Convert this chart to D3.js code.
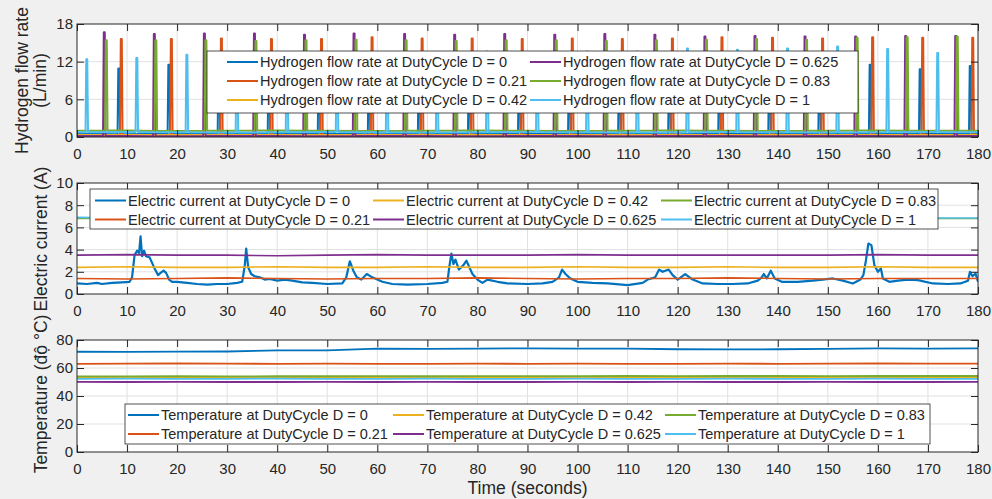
<!DOCTYPE html>
<html>
<head>
<meta charset="utf-8">
<script src="https://cdn.jsdelivr.net/npm/d3@7"></script>
<style>
  body { margin: 0; background: #f0f0f0; }
  svg { display: block; font-family: "Liberation Sans", Arial, Helvetica, sans-serif; }
</style>
</head>
<body>
<svg id="chart" width="992" height="499"></svg>
<script>
// ---- data ----
const timeTicks = [0, 10, 20, 30, 40, 50, 60, 70, 80, 90, 100, 110, 120, 130, 140, 150, 160, 170, 180];
const flowTicks = [0, 6, 12, 18];
const currentTicks = [0, 2, 4, 6, 8, 10];
const tempTicks = [0, 20, 40, 60, 80];
const dutyCycles = ["0", "0.21", "0.42", "0.625", "0.83", "1"];

// samples every 10 s (same times as timeTicks)
const baseTimes = [0, 10, 20, 30, 40, 50, 60, 70, 80, 90, 100, 110, 120, 130, 140, 150, 160, 170, 180];

// hydrogen flow: resting level + spikes
const flowBaseD0 = [0.5, 0.45, 0.5, 0.5, 0.55, 0.5, 0.45, 0.5, 0.5, 0.55, 0.5, 0.5, 0.45, 0.5, 0.5, 0.55, 0.5, 0.5, 0.5];
const flowBaseD021 = [0.05, 0.05, 0.0, 0.05, 0.05, 0.0, 0.05, 0.05, 0.0, 0.05, 0.05, 0.0, 0.05, 0.05, 0.0, 0.05, 0.05, 0.0, 0.05];
const flowBaseD042 = [0.3, 0.3, 0.3, 0.3, 0.3, 0.3, 0.3, 0.3, 0.3, 0.3, 0.3, 0.3, 0.3, 0.3, 0.3, 0.3, 0.3, 0.3, 0.3];
const flowBaseD0625 = [0.15, 0.15, 0.1, 0.15, 0.15, 0.1, 0.15, 0.15, 0.1, 0.15, 0.15, 0.1, 0.15, 0.15, 0.1, 0.15, 0.15, 0.1, 0.15];
const flowBaseD083 = [1.0, 1.05, 0.95, 1.0, 1.05, 1.0, 0.95, 1.0, 1.05, 1.0, 0.95, 1.0, 1.05, 1.0, 0.95, 1.0, 1.05, 1.0, 1.0];
const flowBaseD1 = [0.75, 0.8, 0.75, 0.7, 0.75, 0.8, 0.75, 0.7, 0.75, 0.8, 0.75, 0.7, 0.75, 0.8, 0.75, 0.7, 0.75, 0.8, 0.75];

const flowSpikeTD0 = [8.3, 18.3, 28.3, 38.3, 48.3, 58.3, 68.3, 78.3, 88.3, 98.3, 108.3, 118.3, 128.3, 138.3, 148.3, 158.4, 168.4, 178.4];
const flowSpikeD0 = [10.9, 11.5, 11.2, 11.0, 11.3, 11.1, 11.4, 11.0, 11.2, 11.3, 11.1, 11.2, 11.0, 11.3, 11.2, 11.5, 10.8, 11.3];
const flowSpikeTD021 = [8.8, 18.8, 28.8, 38.8, 48.8, 58.9, 68.9, 78.9, 88.9, 98.9, 108.9, 118.9, 128.8, 138.9, 148.9, 158.9, 168.9, 178.9];
const flowSpikeD021 = [15.6, 15.6, 15.7, 15.6, 15.6, 15.9, 15.7, 15.7, 15.6, 15.7, 15.6, 15.7, 15.9, 15.8, 15.7, 15.9, 15.8, 15.8];
const flowSpikeTD042 = [];
const flowSpikeD042 = [];
const flowSpikeTD0625 = [5.4, 15.4, 25.4, 35.4, 45.4, 55.3, 65.4, 75.4, 85.4, 95.4, 105.4, 115.4, 125.4, 135.4, 145.4, 155.5, 165.5, 175.5];
const flowSpikeD0625 = [16.7, 16.4, 16.5, 16.5, 16.3, 16.5, 16.4, 16.3, 16.4, 16.3, 16.4, 16.3, 16.0, 16.1, 16.0, 16.0, 16.1, 16.1];
const flowSpikeTD083 = [5.8, 15.7, 25.7, 35.7, 45.7, 55.7, 65.7, 75.7, 85.7, 95.7, 105.7, 115.7, 125.7, 135.7, 145.7, 155.8, 165.8, 175.8];
const flowSpikeD083 = [15.4, 15.4, 15.4, 15.3, 15.4, 15.5, 15.4, 15.3, 15.4, 15.4, 15.3, 15.4, 15.5, 15.6, 15.5, 15.8, 15.9, 16.0];
const flowSpikeTD1 = [1.9, 11.9, 21.9, 31.9, 41.9, 51.9, 61.9, 71.9, 81.9, 91.9, 101.9, 111.9, 121.9, 131.9, 141.9, 151.9, 161.9, 171.9];
const flowSpikeD1 = [12.4, 12.6, 13.1, 13.2, 13.3, 13.4, 13.5, 13.5, 13.6, 13.5, 13.6, 13.6, 14.1, 13.9, 14.1, 14.4, 14.0, 13.4];

// electric current (A)
const currentD0 = [[0, 0.95], [2, 0.9], [4, 1.0], [5, 0.9], [7, 1.0], [9, 1.05], [10.5, 1.1], [11, 1.5], [11.5, 3.5], [12, 3.9], [12.4, 3.7], [12.7, 5.2], [13, 3.4], [13.4, 3.9], [13.8, 3.4], [14.5, 3.3], [15, 2.8], [15.6, 2.2], [16.2, 1.7], [16.7, 1.9], [17.3, 2.1], [17.8, 1.9], [18.4, 1.3], [19, 1.1], [20, 1.1], [22, 1.0], [24, 0.9], [26, 0.85], [28, 0.9], [30, 0.9], [32, 1.0], [33, 1.1], [33.5, 2.5], [33.8, 4.1], [34.2, 2.4], [34.8, 1.8], [35.5, 1.6], [36.5, 1.5], [37.5, 1.3], [38.5, 1.35], [40, 1.2], [41.5, 1.3], [43, 1.2], [45, 1.05], [47, 1.0], [50, 0.9], [53, 0.95], [53.8, 1.5], [54.5, 2.95], [55.2, 2.1], [55.9, 1.5], [56.8, 1.3], [57.9, 1.8], [59, 1.5], [60, 1.3], [61, 1.1], [63, 0.9], [66, 0.85], [70, 0.9], [73, 1.0], [74, 1.1], [74.4, 2.5], [74.8, 3.65], [75.2, 2.7], [75.6, 3.1], [76.3, 2.2], [77.2, 2.6], [77.8, 3.0], [78.4, 2.4], [79, 1.8], [80, 1.3], [81, 1.0], [82, 1.3], [84, 1.1], [86, 0.95], [90, 0.9], [93, 0.95], [95, 1.1], [96.3, 1.5], [96.9, 2.2], [97.6, 1.8], [98.3, 1.5], [99, 1.3], [100, 1.1], [103, 1.0], [106, 0.95], [110, 0.8], [113, 1.0], [114, 1.3], [115.5, 1.5], [116.3, 2.2], [117, 2.0], [118.2, 2.2], [119, 1.7], [120, 1.3], [121.5, 1.8], [123, 1.3], [125, 0.95], [128, 0.9], [131, 0.9], [134, 0.95], [136, 1.2], [136.8, 1.5], [137.2, 1.8], [137.8, 1.4], [138.6, 2.1], [139.4, 1.4], [140.8, 1.1], [144, 1.1], [147, 1.2], [149, 1.3], [151, 1.4], [153, 1.2], [155, 0.95], [156.5, 1.3], [157.1, 1.7], [157.6, 3.0], [158.1, 4.55], [158.7, 4.4], [159.3, 2.6], [160, 2.0], [160.6, 2.3], [161, 1.4], [162.3, 1.1], [164, 1.2], [166, 1.3], [168, 1.25], [171, 0.95], [174, 0.9], [176.5, 0.95], [178, 1.2], [178.4, 2.0], [178.9, 1.6], [179.5, 1.85], [180, 1.1]];
const currentD021 = [1.4, 1.35, 1.4, 1.45, 1.4, 1.35, 1.4, 1.4, 1.45, 1.4, 1.35, 1.4, 1.4, 1.45, 1.4, 1.35, 1.4, 1.4, 1.4];
const currentD042 = [2.4, 2.45, 2.4, 2.4, 2.45, 2.4, 2.4, 2.45, 2.4, 2.4, 2.45, 2.4, 2.4, 2.45, 2.4, 2.4, 2.45, 2.4, 2.4];
const currentD0625 = [3.5, 3.55, 3.5, 3.5, 3.45, 3.5, 3.55, 3.5, 3.5, 3.5, 3.55, 3.5, 3.5, 3.5, 3.5, 3.5, 3.55, 3.5, 3.5];
const currentD083 = [6.8, 6.8, 6.85, 6.8, 6.8, 6.8, 6.85, 6.8, 6.8, 6.8, 6.85, 6.8, 6.8, 6.8, 6.85, 6.8, 6.8, 6.8, 6.8];
const currentD1 = [6.9, 6.85, 6.9, 6.85, 6.9, 6.85, 6.9, 6.85, 6.9, 6.85, 6.9, 6.85, 6.9, 6.85, 6.9, 6.85, 6.9, 6.85, 6.85];

// temperature (°C)
const tempD0 = [71.6, 71.5, 71.7, 71.8, 72.6, 72.6, 73.9, 73.6, 73.9, 74.0, 73.9, 73.8, 73.4, 73.3, 73.4, 73.7, 74.0, 73.9, 74.0];
const tempD021 = [63.0, 63.1, 63.2, 63.1, 63.0, 63.1, 63.0, 63.0, 63.1, 63.0, 63.1, 63.0, 63.0, 63.1, 63.0, 63.1, 63.2, 63.1, 63.1];
const tempD042 = [53.2, 53.2, 53.3, 53.2, 53.2, 53.3, 53.2, 53.2, 53.3, 53.2, 53.2, 53.3, 53.2, 53.2, 53.3, 53.2, 53.2, 53.3, 53.2];
const tempD0625 = [50.1, 50.0, 50.1, 50.0, 50.0, 50.1, 50.0, 50.1, 50.0, 50.0, 50.1, 50.0, 50.1, 50.0, 50.0, 50.1, 50.0, 50.0, 50.1];
const tempD083 = [54.0, 54.0, 54.1, 54.0, 54.1, 54.1, 54.2, 54.1, 54.2, 54.2, 54.2, 54.3, 54.2, 54.3, 54.3, 54.2, 54.3, 54.3, 54.3];
const tempD1 = [52.3, 52.4, 52.3, 52.3, 52.4, 52.3, 52.3, 52.4, 52.3, 52.3, 52.4, 52.3, 52.3, 52.4, 52.3, 52.3, 52.4, 52.3, 52.3];

// ---- drawing ----
const colors = ["#0072BD", "#D95319", "#EDB120", "#7E2F8E", "#77AC30", "#4DBEEE"];
const svg = d3.select("#chart");
const left = 77, right = 978;
const x = d3.scaleLinear().domain([0, 180]).range([left, right]);

function flowPoints(base, spikeT, spikeV) {
    const pts = baseTimes.map((t, i) => [t, base[i]]);
    spikeT.forEach((t, i) => {
        const b = base[Math.round(t / 10)];
        pts.push([t - 0.2, b], [t - 0.05, spikeV[i]], [t + 0.15, spikeV[i]], [t + 0.3, b]);
    });
    return pts.sort((a, b) => a[0] - b[0]);
}
const sampled = vals => baseTimes.map((t, i) => [t, vals[i]]);

const flowSeries = [
    flowPoints(flowBaseD0, flowSpikeTD0, flowSpikeD0),
    flowPoints(flowBaseD021, flowSpikeTD021, flowSpikeD021),
    flowPoints(flowBaseD042, flowSpikeTD042, flowSpikeD042),
    flowPoints(flowBaseD0625, flowSpikeTD0625, flowSpikeD0625),
    flowPoints(flowBaseD083, flowSpikeTD083, flowSpikeD083),
    flowPoints(flowBaseD1, flowSpikeTD1, flowSpikeD1)
];
const currentSeries = [currentD0, sampled(currentD021), sampled(currentD042), sampled(currentD0625), sampled(currentD083), sampled(currentD1)];
const tempSeries = [sampled(tempD0), sampled(tempD021), sampled(tempD042), sampled(tempD0625), sampled(tempD083), sampled(tempD1)];

const panels = [
    { id: "flow", top: 24, bottom: 137, domain: [0, 18], ticks: flowTicks, series: flowSeries, width: [2, 2, 2, 2, 2, 2],
      prefix: "Hydrogen flow rate at DutyCycle D = ",
      legend: { box: [207, 51, 858, 113], cols: [227, 530], rows: [62, 81, 100] } },
    { id: "cur", top: 183, bottom: 294, domain: [0, 10], ticks: currentTicks, series: currentSeries, width: [2.2, 1.6, 1.6, 1.6, 1.6, 1.6],
      prefix: "Electric current at DutyCycle D = ",
      legend: { box: [90, 189, 938, 229], cols: [95, 373, 661], rows: [200.5, 219.5] } },
    { id: "temp", top: 340, bottom: 452, domain: [0, 80], ticks: tempTicks, series: tempSeries, width: [1.8, 1.8, 1.8, 1.8, 1.8, 1.8],
      prefix: "Temperature at DutyCycle D = ",
      legend: { box: [125, 404, 930, 444], cols: [128, 393, 665], rows: [415, 434] } }
];

panels.forEach(p => {
    const y = d3.scaleLinear().domain(p.domain).range([p.bottom, p.top]);
    const g = svg.append("g");

    g.append("clipPath").attr("id", "clip-" + p.id)
        .append("rect").attr("x", left).attr("y", p.top).attr("width", right - left).attr("height", p.bottom - p.top);

    g.append("rect")
        .attr("x", left).attr("y", p.top)
        .attr("width", right - left).attr("height", p.bottom - p.top)
        .attr("fill", "#fff");

    // grid
    g.selectAll(".vgrid").data(timeTicks.slice(1, -1)).enter().append("line")
        .attr("x1", d => x(d)).attr("x2", d => x(d))
        .attr("y1", p.top).attr("y2", p.bottom)
        .attr("stroke", "#e1e1e1").attr("stroke-width", 1);
    g.selectAll(".hgrid").data(p.ticks.slice(1, -1)).enter().append("line")
        .attr("x1", left).attr("x2", right)
        .attr("y1", d => y(d)).attr("y2", d => y(d))
        .attr("stroke", "#e1e1e1").attr("stroke-width", 1);

    // lines
    const line = d3.line().x(d => x(d[0])).y(d => y(d[1]));
    g.append("g").attr("clip-path", `url(#clip-${p.id})`)
        .selectAll("path").data(p.series).enter().append("path")
        .attr("d", line)
        .attr("fill", "none")
        .attr("stroke", (d, i) => colors[i])
        .attr("stroke-width", (d, i) => p.width[i])
        .attr("stroke-linejoin", "round");

    // axes (ticks pointing inward on all four sides)
    const styleAxis = a => {
        a.select(".domain").remove();
        a.selectAll("line").attr("stroke", "#262626");
        a.selectAll("text").attr("fill", "#262626").attr("font-size", 15)
            .attr("font-family", '"Liberation Sans", Arial, sans-serif');
    };
    g.append("g").attr("transform", `translate(0,${p.bottom})`)
        .call(d3.axisBottom(x).tickValues(timeTicks).tickSize(-7).tickPadding(11))
        .call(styleAxis);
    g.append("g").attr("transform", `translate(0,${p.top})`)
        .call(d3.axisTop(x).tickValues(timeTicks).tickSize(-7).tickFormat(() => ""))
        .call(styleAxis);
    g.append("g").attr("transform", `translate(${left},0)`)
        .call(d3.axisLeft(y).tickValues(p.ticks).tickSize(-7).tickPadding(4))
        .call(styleAxis);
    g.append("g").attr("transform", `translate(${right},0)`)
        .call(d3.axisRight(y).tickValues(p.ticks).tickSize(-7).tickFormat(() => ""))
        .call(styleAxis);

    g.append("rect")
        .attr("x", left).attr("y", p.top)
        .attr("width", right - left).attr("height", p.bottom - p.top)
        .attr("fill", "none").attr("stroke", "#262626").attr("stroke-width", 1);

    // legend (column-major order like MATLAB)
    const L = p.legend;
    const lg = g.append("g");
    lg.append("rect")
        .attr("x", L.box[0]).attr("y", L.box[1])
        .attr("width", L.box[2] - L.box[0]).attr("height", L.box[3] - L.box[1])
        .attr("fill", "#fff").attr("stroke", "#262626").attr("stroke-width", 0.8);
    const nRows = L.rows.length;
    const items = lg.selectAll(".item").data(dutyCycles).enter().append("g")
        .attr("transform", (d, i) => `translate(${L.cols[Math.floor(i / nRows)]},${L.rows[i % nRows]})`);
    items.append("line")
        .attr("x1", 0).attr("x2", 31).attr("y1", 0).attr("y2", 0)
        .attr("stroke", (d, i) => colors[i]).attr("stroke-width", 2);
    items.append("text")
        .attr("x", 33).attr("dy", "0.35em")
        .attr("font-size", 14.5).attr("fill", "#262626")
        .text(d => p.prefix + d);
});

// axis titles
const titleFont = 17.5;
svg.append("text").attr("transform", "translate(28,80.5) rotate(-90)")
    .attr("text-anchor", "middle").attr("font-size", titleFont).attr("fill", "#262626")
    .text("Hydrogen flow rate");
svg.append("text").attr("transform", "translate(46,80.5) rotate(-90)")
    .attr("text-anchor", "middle").attr("font-size", titleFont).attr("fill", "#262626")
    .text("(L/min)");
svg.append("text").attr("transform", "translate(47,239) rotate(-90)")
    .attr("text-anchor", "middle").attr("font-size", titleFont).attr("fill", "#262626")
    .text("Electric current (A)");
svg.append("text").attr("transform", "translate(47,394) rotate(-90)")
    .attr("text-anchor", "middle").attr("font-size", titleFont).attr("fill", "#262626")
    .text("Temperature (độ °C)");
svg.append("text").attr("x", (left + right) / 2).attr("y", 494)
    .attr("text-anchor", "middle").attr("font-size", titleFont).attr("fill", "#262626")
    .text("Time (seconds)");
</script>
</body>
</html>
